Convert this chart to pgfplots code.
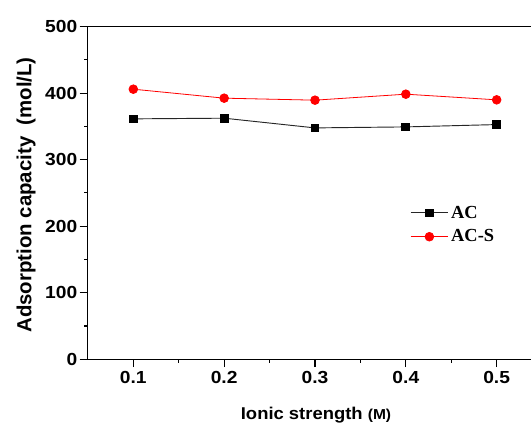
\documentclass[border=0pt]{standalone}
\usepackage{fontspec}
\setmainfont{Liberation Serif}
\setsansfont{Liberation Sans}
\usepackage{pgfplots}
\pgfplotsset{compat=1.18}
\definecolor{acsred}{RGB}{255,0,0}

\begin{document}
\begin{tikzpicture}
\begin{axis}[
  at={(0,0)}, anchor=south west,
  scale only axis,
  width=332.5pt, height=249.45pt,
  xmin=0.0498, xmax=0.5378,
  ymin=0, ymax=500,
  axis y line*=left,
  xtick pos=left,
  xtick={0.1,0.2,0.3,0.4,0.5},
  ytick={0,100,200,300,400,500},
  minor x tick num=1,
  minor y tick num=1,
  tick align=outside,
  major tick length=6pt,
  minor tick length=2.5pt,
  axis line style={line width=1pt},
  every tick/.style={black, line width=0.8pt},
  /pgf/number format/assume math mode=true,
  /pgf/number format/fixed,
  /pgf/number format/precision=1,
  ticklabel style={font=\sffamily\bfseries\fontsize{13.1}{14}\selectfont, xscale=1.1},
  yticklabel style={inner sep=1.5pt},
  xticklabel style={inner sep=3pt},
  xlabel={\sffamily\bfseries\fontsize{12.8}{14}\selectfont Ionic strength {\fontsize{10.8}{12}\selectfont(M)}},
  xlabel style={at={(axis description cs:0.515,-0.181)}, anchor=base, xscale=1.08},
  ylabel={\sffamily\bfseries\fontsize{15.3}{17}\selectfont Adsorption capacity\ \ (mol/L)},
  ylabel style={at={(axis description cs:-0.139,0.494)}, anchor=center, rotate=0},
  legend style={at={(axis description cs:0.727,0.470)}, anchor=north west,
    draw=none, fill=none, inner sep=0pt, row sep=3.2pt,
    font=\rmfamily\bfseries\fontsize{13.8}{16}\selectfont},
  legend cell align=left,
  legend image code/.code={%
    \draw[mark repeat=2,mark phase=2] plot coordinates {(0pt,0pt) (14pt,0pt) (28pt,0pt)};},
]
% AC
\addplot[black!85, line width=0.7pt, mark=square*, mark size=2.9pt,
  mark options={solid, fill=black, draw=black}]
  coordinates {(0.1,361.4) (0.2,362.4) (0.3,347.8) (0.4,349.3) (0.5,352.8)};
\addlegendentry{AC}
% AC-S
\addplot[acsred, line width=0.6pt, mark=*, mark size=3.25pt,
  mark options={solid, fill=acsred, draw=acsred}]
  coordinates {(0.1,406.0) (0.2,392.5) (0.3,389.5) (0.4,398.5) (0.5,390.0)};
\addlegendentry{AC-S}
\end{axis}
\pgfresetboundingbox
\useasboundingbox (-65.8pt,-49.3pt) rectangle (332.5pt,269.45pt);
\end{tikzpicture}
\end{document}
